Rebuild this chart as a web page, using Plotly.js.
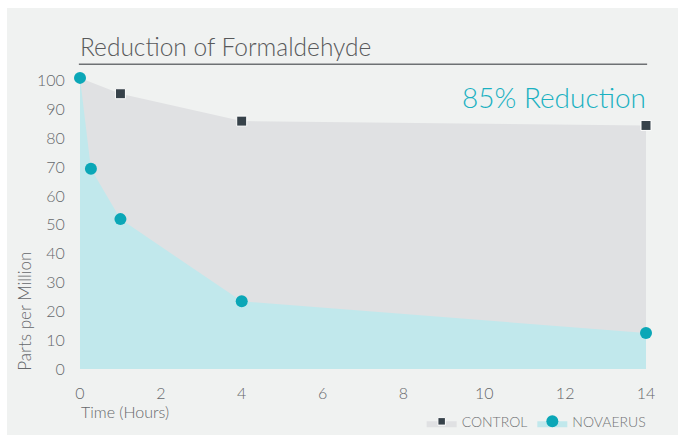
<!DOCTYPE html>
<html>
<head>
<meta charset="utf-8">
<script src="https://cdn.plot.ly/plotly-3.0.1.min.js"></script>
<style>
  html, body { margin: 0; padding: 0; background: #ffffff; }
  #chart { width: 678px; height: 435px; }
</style>
</head>
<body>
<div id="chart"></div>
<script>
// values
var controlHours = [0, 1, 4, 14],
	controlPpm = [101, 95.5, 86, 84.5],
	novaHours = [0, 0.27, 1, 4, 14],
	novaPpm = [101, 69.5, 52, 23.5, 12.5],
	xTicks = [0, 2, 4, 6, 8, 10, 12, 14],
	yTicks = [0, 10, 20, 30, 40, 50, 60, 70, 80, 90, 100];

var FONT = 'Lato, "Open Sans", sans-serif',
	GREYTXT = '#66686b';

var control = {
	x: controlHours,
	y: controlPpm,
	name: 'CONTROL',
	type: 'scatter',
	mode: 'markers',
	fill: 'tozeroy',
	fillcolor: '#e0e1e3',
	line: { width: 0 },
	cliponaxis: false,
	// first point sits under the first Novaerus dot
	marker: { symbol: 'square', size: [0, 10, 10, 10], color: '#37424a', opacity: 1 }
};

var novaerus = {
	x: novaHours,
	y: novaPpm,
	name: 'NOVAERUS',
	type: 'scatter',
	mode: 'markers',
	fill: 'tozeroy',
	fillcolor: '#c1e8ec',
	line: { width: 0 },
	cliponaxis: false,
	marker: { symbol: 'circle', size: 12, color: '#0ba7b7', opacity: 1 }
};

// plot box: x 80..646, y 75..369 (y range 0..102)
var layout = {
	width: 678,
	height: 435,
	margin: { l: 80, r: 32, t: 75, b: 66, autoexpand: false },
	paper_bgcolor: '#ffffff',
	plot_bgcolor: 'rgba(0,0,0,0)',
	font: { family: FONT, color: GREYTXT, size: 14 },
	showlegend: true,
	legend: {
		orientation: 'h',
		x: 1.01, xanchor: 'right',
		y: -0.125, yanchor: 'top',
		font: { size: 14, color: '#707275', weight: 300 },
		bgcolor: 'rgba(0,0,0,0)',
		itemwidth: 30,
		traceorder: 'normal'
	},
	xaxis: {
		range: [0, 14],
		tickvals: xTicks,
		showgrid: false,
		zeroline: false,
		showline: false,
		ticks: 'outside', ticklen: 10, tickcolor: 'rgba(0,0,0,0)',
		tickfont: { size: 16, color: GREYTXT, weight: 300 },
		fixedrange: true
	},
	yaxis: {
		range: [0, 102],
		tickvals: yTicks,
		showgrid: false,
		zeroline: false,
		showline: false,
		ticks: 'outside', ticklen: 11, tickcolor: 'rgba(0,0,0,0)',
		tickfont: { size: 16, color: GREYTXT, weight: 300 },
		fixedrange: true
	},
	shapes: [
		// light panel behind everything
		{ type: 'rect', xref: 'paper', yref: 'paper', layer: 'below',
			x0: -0.129, x1: 1.06, y0: -0.25, y1: 1.228,
			fillcolor: '#f0f2f1', line: { width: 0 } },
		// rule under the title
		{ type: 'line', xref: 'paper', yref: 'paper',
			x0: -0.002, x1: 1.002, y0: 1.0365, y1: 1.0365,
			line: { color: '#6e7174', width: 1.5 } }
	],
	annotations: [
		{ text: 'Reduction of Formaldehyde', xref: 'paper', yref: 'paper',
			x: -0.004, y: 1.042, xanchor: 'left', yanchor: 'bottom', showarrow: false,
			font: { family: FONT, size: 24.5, color: '#58595b', weight: 300 } },
		{ text: '85% Reduction', xref: 'paper', yref: 'paper',
			x: 1.003, y: 0.925, xanchor: 'right', yanchor: 'middle', showarrow: false,
			font: { family: FONT, size: 28, color: '#1ab1c1', weight: 300 } },
		{ text: 'Parts per Million', xref: 'paper', yref: 'paper',
			x: -0.097, y: 0.195, xanchor: 'center', yanchor: 'middle', textangle: -90,
			showarrow: false, font: { family: FONT, size: 17, color: GREYTXT, weight: 300 } },
		{ text: 'Time (Hours)', xref: 'paper', yref: 'paper',
			x: -0.002, y: -0.146, xanchor: 'left', yanchor: 'middle',
			showarrow: false, font: { family: FONT, size: 16, color: GREYTXT, weight: 300 } }
	]
};

Plotly.newPlot('chart', [control, novaerus], layout, { displayModeBar: false, staticPlot: true });
</script>
</body>
</html>
